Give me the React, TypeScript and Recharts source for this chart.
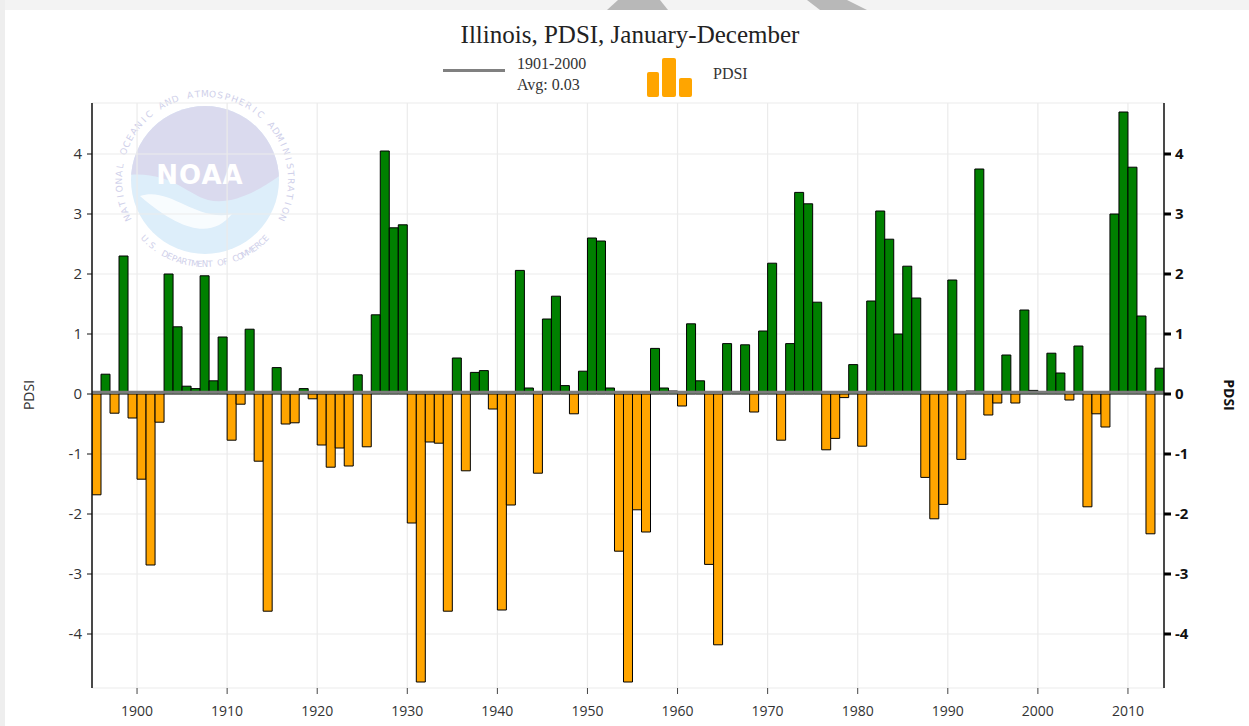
import React from "react"
import { BarChart, Bar, Cell, XAxis, YAxis, CartesianGrid, ReferenceLine } from "recharts"

// Illinois PDSI, January-December, one value per year (1895-2013)
const years = [
  1895, 1896, 1897, 1898, 1899,
  1900, 1901, 1902, 1903, 1904, 1905, 1906, 1907, 1908, 1909,
  1910, 1911, 1912, 1913, 1914, 1915, 1916, 1917, 1918, 1919,
  1920, 1921, 1922, 1923, 1924, 1925, 1926, 1927, 1928, 1929,
  1930, 1931, 1932, 1933, 1934, 1935, 1936, 1937, 1938, 1939,
  1940, 1941, 1942, 1943, 1944, 1945, 1946, 1947, 1948, 1949,
  1950, 1951, 1952, 1953, 1954, 1955, 1956, 1957, 1958, 1959,
  1960, 1961, 1962, 1963, 1964, 1965, 1966, 1967, 1968, 1969,
  1970, 1971, 1972, 1973, 1974, 1975, 1976, 1977, 1978, 1979,
  1980, 1981, 1982, 1983, 1984, 1985, 1986, 1987, 1988, 1989,
  1990, 1991, 1992, 1993, 1994, 1995, 1996, 1997, 1998, 1999,
  2000, 2001, 2002, 2003, 2004, 2005, 2006, 2007, 2008, 2009,
  2010, 2011, 2012, 2013,
]

const pdsi = [
  -1.68, 0.33, -0.32, 2.3, -0.4,
  -1.42, -2.85, -0.47, 2.0, 1.12, 0.13, 0.09, 1.97, 0.22, 0.95,
  -0.77, -0.17, 1.08, -1.12, -3.62, 0.44, -0.5, -0.48, 0.09, -0.08,
  -0.85, -1.22, -0.9, -1.2, 0.32, -0.88, 1.32, 4.05, 2.77, 2.82,
  -2.15, -4.8, -0.8, -0.82, -3.62, 0.6, -1.28, 0.36, 0.39, -0.25,
  -3.6, -1.85, 2.06, 0.1, -1.32, 1.25, 1.63, 0.14, -0.33, 0.38,
  2.6, 2.55, 0.1, -2.62, -4.8, -1.93, -2.3, 0.76, 0.1, 0.05,
  -0.2, 1.17, 0.22, -2.84, -4.18, 0.84, 0.02, 0.82, -0.3, 1.05,
  2.18, -0.77, 0.84, 3.36, 3.17, 1.53, -0.93, -0.74, -0.06, 0.49,
  -0.87, 1.55, 3.05, 2.58, 1.0, 2.13, 1.6, -1.39, -2.08, -1.84,
  1.9, -1.09, 0.05, 3.75, -0.35, -0.15, 0.65, -0.15, 1.4, 0.06,
  0.02, 0.68, 0.35, -0.1, 0.8, -1.88, -0.33, -0.55, 3.0, 4.7,
  3.78, 1.3, -2.33, 0.43,
]

const decadeTicks = [1900, 1910, 1920, 1930, 1940, 1950, 1960, 1970, 1980, 1990, 2000, 2010]
const valueTicks = [-4, -3, -2, -1, 0, 1, 2, 3, 4]
const avgValue = 0.03 // 1901-2000 average

const WET = "#008000"
const DRY = "#FFA500"

// each bar covers its whole year, so it is centred half a year in
const rows = years.map((year, i) => ({ year, mid: year + 0.5, pdsi: pdsi[i] }))

const tickFont = { fontFamily: "Open Sans", fontSize: 14 }

// letters of the watermark ring, one <text> each so they follow the circle
function RingText({ text, cx, cy, r, from, to, flip, size = 9 }) {
  const chars = text.split("")
  const step = (to - from) / (chars.length - 1)
  return (
    <g fontFamily="DejaVu Sans" fontSize={size} fill="#cfd0ea">
      {chars.map((c, i) => {
        const a = from + step * i
        const rad = (a * Math.PI) / 180
        const x = cx + r * Math.sin(rad)
        const y = cy - r * Math.cos(rad)
        const rot = flip ? a - 180 : a
        return (
          <text key={i} x={x} y={y} textAnchor="middle" dominantBaseline="central" transform={`rotate(${rot} ${x} ${y})`}>
            {c}
          </text>
        )
      })}
    </g>
  )
}

function NoaaMark() {
  return (
    <svg width={1249} height={726} style={{ position: "absolute", left: 0, top: 0 }}>
      <rect x={0} y={0} width={1249} height={10} fill="#f3f3f3" />
      <rect x={0} y={0} width={5} height={726} fill="#eeeeee" />
      <polygon points="618,0 660,0 668,10 607,10" fill="#b8b8b8" />
      <polygon points="807,0 847,0 867,10 820,10" fill="#b8b8b8" />
      <defs>
        <clipPath id="noaaClip">
          <circle cx={205} cy={180} r={74} />
        </clipPath>
      </defs>
      <circle cx={205} cy={180} r={74} fill="#ddeefa" />
      <g clipPath="url(#noaaClip)">
        <path d="M 120 100 L 290 100 L 290 168 C 262 190 232 206 208 200 C 186 194 168 168 120 176 Z" fill="#dadaee" />
        <path d="M 140 196 C 170 186 196 222 232 214 C 214 236 186 236 140 196 Z" fill="#ffffff" opacity={0.8} />
      </g>
      <text x={200} y={184} textAnchor="middle" fontFamily="DejaVu Sans" fontWeight="bold" fontSize={26} fill="#ffffff" letterSpacing={1}>
        NOAA
      </text>
      <RingText text="NATIONAL OCEANIC AND ATMOSPHERIC ADMINISTRATION" cx={205} cy={180} r={86} from={-116} to={116} />
      <RingText text="U.S. DEPARTMENT OF COMMERCE" cx={205} cy={180} r={84} from={226} to={134} flip size={8.5} />
    </svg>
  )
}

function Header() {
  const serif = "'Liberation Serif', 'Times New Roman', serif"
  return (
    <div style={{ position: "absolute", left: 0, top: 0, width: 1249, height: 100, fontFamily: serif, color: "#222" }}>
      <div style={{ position: "absolute", left: 0, width: 1260, top: 20, textAlign: "center", fontSize: 25, lineHeight: "30px" }}>
        Illinois, PDSI, January-December
      </div>
      <div style={{ position: "absolute", left: 443, top: 69, width: 62, height: 3, background: "#808080" }} />
      <div style={{ position: "absolute", left: 517, top: 53, fontSize: 16, lineHeight: "21px", color: "#333" }}>
        1901-2000
        <br />
        Avg: {avgValue.toFixed(2)}
      </div>
      <div style={{ position: "absolute", left: 647, top: 72, width: 12, height: 25, background: DRY, borderRadius: 2 }} />
      <div style={{ position: "absolute", left: 662, top: 58, width: 14, height: 39, background: DRY, borderRadius: 2 }} />
      <div style={{ position: "absolute", left: 679, top: 78, width: 13, height: 19, background: DRY, borderRadius: 2 }} />
      <div style={{ position: "absolute", left: 713, top: 64, fontSize: 16, lineHeight: "20px", color: "#333" }}>PDSI</div>
    </div>
  )
}

function AxisTitles() {
  return (
    <>
      <div
        style={{
          position: "absolute", left: 28, top: 395, transform: "translate(-50%, -50%) rotate(-90deg)",
          fontFamily: "Open Sans", fontSize: 14, color: "#333",
        }}
      >
        PDSI
      </div>
      <div
        style={{
          position: "absolute", left: 1229, top: 395, transform: "translate(-50%, -50%) rotate(90deg)",
          fontFamily: "Open Sans", fontSize: 14, fontWeight: 700, color: "#111",
        }}
      >
        PDSI
      </div>
    </>
  )
}

export default function App() {
  return (
    <div style={{ position: "absolute", left: 0, top: 0, width: 1249, height: 726, background: "#fff", overflow: "hidden" }}>
      <NoaaMark />
      <Header />
      <AxisTitles />
      <div style={{ position: "absolute", left: 0, top: 0 }}>
        <BarChart
          width={1249}
          height={726}
          data={rows}
          margin={{ top: 103, right: 35, bottom: 0, left: 22 }}
          barCategoryGap={0}
          barGap={0}
        >
          <CartesianGrid yAxisId="left" stroke="#ebebeb" strokeWidth={1.2} />
          <XAxis
            type="number"
            dataKey="mid"
            domain={[1895, 2014]}
            ticks={decadeTicks}
            interval={0}
            allowDataOverflow
            axisLine={false}
            tickLine={{ stroke: "#444" }}
            tickSize={6}
            tickMargin={12}
            height={38}
            tick={{ ...tickFont, fill: "#333" }}
          />
          <YAxis
            yAxisId="left"
            domain={[-4.9, 4.85]}
            ticks={valueTicks}
            interval={0}
            allowDataOverflow
            width={70}
            axisLine={{ stroke: "#111", strokeWidth: 1.5 }}
            tickLine={{ stroke: "#111" }}
            tickSize={5}
            tickMargin={5}
            tick={{ ...tickFont, fontSize: 15, fill: "#333" }}
          />
          <YAxis
            yAxisId="right"
            orientation="right"
            domain={[-4.9, 4.85]}
            ticks={valueTicks}
            interval={0}
            allowDataOverflow
            width={50}
            axisLine={{ stroke: "#111", strokeWidth: 1.5 }}
            tickLine={{ stroke: "#000", strokeWidth: 3 }}
            tickSize={7}
            tickMargin={4}
            tick={{ ...tickFont, fontSize: 15, fontWeight: 700, fill: "#111" }}
          />
          <Bar yAxisId="left" dataKey="pdsi" stroke="#000" strokeWidth={1} isAnimationActive={false}>
            {rows.map((r) => (
              <Cell key={r.year} fill={r.pdsi >= 0 ? WET : DRY} />
            ))}
          </Bar>
          <ReferenceLine yAxisId="left" y={avgValue} stroke="#7c7c7c" strokeWidth={3} />
        </BarChart>
      </div>
    </div>
  )
}
